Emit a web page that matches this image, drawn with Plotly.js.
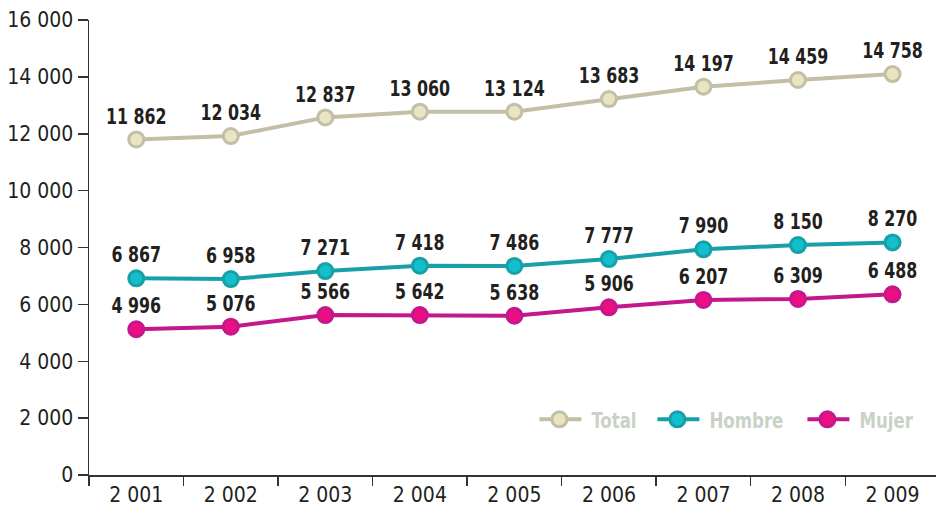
<!DOCTYPE html>
<html>
<head>
<meta charset="utf-8">
<script src="https://cdn.plot.ly/plotly-3.0.1.min.js"></script>
<style>html,body{margin:0;padding:0;background:#fff;}#chart{width:936px;height:510px;}</style>
</head>
<body>
<div id="chart"></div>
<script>
// Categories (years, as printed)
const years = ["2 001","2 002","2 003","2 004","2 005","2 006","2 007","2 008","2 009"];

// Printed data labels
const totalLabels  = [11862, 12034, 12837, 13060, 13124, 13683, 14197, 14459, 14758];
const hombreLabels = [6867, 6958, 7271, 7418, 7486, 7777, 7990, 8150, 8270];
const mujerLabels  = [4996, 5076, 5566, 5642, 5638, 5906, 6207, 6309, 6488];

// Plotted positions as drawn in the reference
const totalPlot  = [11800, 11920, 12575, 12775, 12775, 13220, 13655, 13890, 14100];
const hombrePlot = [6915, 6890, 7170, 7360, 7350, 7595, 7935, 8085, 8180];
const mujerPlot  = [5125, 5215, 5625, 5625, 5600, 5895, 6155, 6190, 6355];

const yTicks = [0, 2000, 4000, 6000, 8000, 10000, 12000, 14000, 16000];

function fmt(n){ return String(n).replace(/\B(?=(\d{3})+(?!\d))/g, " "); }

const FONT = '"DejaVu Sans Condensed", "Liberation Sans Narrow", sans-serif';

function series(name, yv, labels, lineCol, fillCol, legendId){
  return {
    type: 'scatter',
    mode: 'lines+markers+text',
    name: name,
    legend: legendId,
    x: years,
    y: yv,
    text: labels.map(fmt),
    textposition: 'top center',
    textfont: {family: FONT, size: 22, color: '#231f20', weight: 'bold'},
    line: {color: lineCol, width: 4},
    marker: {symbol: 'circle', size: 15, color: fillCol, line: {color: lineCol, width: 3}},
    cliponaxis: false,
    hoverinfo: 'skip'
  };
}

const data = [
  series('Total', totalPlot, totalLabels, '#c2bfa6', '#e9e5c3', 'legend'),
  series('Hombre', hombrePlot, hombreLabels, '#17a0a8', '#13bfcc', 'legend2'),
  series('Mujer', mujerPlot, mujerLabels, '#c3178b', '#ec0f84', 'legend3')
];

function leg(px){
  return {
    orientation: 'h',
    x: (px - 89) / 847, xanchor: 'left',
    y: 0.122, yanchor: 'middle',
    bgcolor: 'rgba(0,0,0,0)',
    font: {family: FONT, size: 22, color: '#c9d2c6', weight: 'bold'},
    itemclick: false
  };
}

const layout = {
  width: 936, height: 510,
  margin: {l: 89, r: 0, t: 20, b: 35},
  paper_bgcolor: '#ffffff',
  plot_bgcolor: '#ffffff',
  showlegend: true,
  legend: leg(539.4),
  legend2: leg(657.4),
  legend3: leg(807.4),
  xaxis: {
    type: 'category',
    range: [-0.5, 8.46],
    tickson: 'boundaries',
    ticks: 'outside', ticklen: 9, tickwidth: 1.5, tickcolor: '#333',
    showline: true, linecolor: '#333', linewidth: 1.5,
    showgrid: false, zeroline: false,
    tickfont: {family: FONT, size: 21, color: '#231f20'},
    fixedrange: true
  },
  yaxis: {
    range: [0, 16000],
    tickvals: yTicks,
    ticktext: yTicks.map(fmt),
    ticks: 'outside', ticklen: 10, tickwidth: 1.5, tickcolor: '#333',
    showline: true, linecolor: '#333', linewidth: 1.5,
    showgrid: false, zeroline: false,
    tickfont: {family: FONT, size: 21, color: '#231f20'},
    fixedrange: true
  }
};

function squeeze(el, sx, dx){
  if (el.getAttribute('data-sq') === '1') return;
  el.setAttribute('data-sq', '1');
  const prev = el.getAttribute('transform') || '';
  const x = parseFloat(el.getAttribute('x')) || 0;
  el.setAttribute('transform', prev + ' translate(' + (x + dx) + ',0) scale(' + sx + ',1) translate(' + (-x) + ',0)');
}

function polish(){
  const gd = document.getElementById('chart');
  gd.querySelectorAll('g.textpoint text').forEach(function(t){ squeeze(t, 0.8, 0); });
  gd.querySelectorAll('g.traces text').forEach(function(t){ squeeze(t, 0.84, 12); });
  gd.querySelectorAll('g.legendlines path').forEach(function(p){ p.setAttribute('d', 'M-1,0h43'); });
}

Plotly.newPlot('chart', data, layout, {staticPlot: true, displayModeBar: false}).then(function(gd){
  polish();
  gd.on('plotly_afterplot', polish);
  setTimeout(polish, 50);
  setTimeout(polish, 300);
});
</script>
</body>
</html>
